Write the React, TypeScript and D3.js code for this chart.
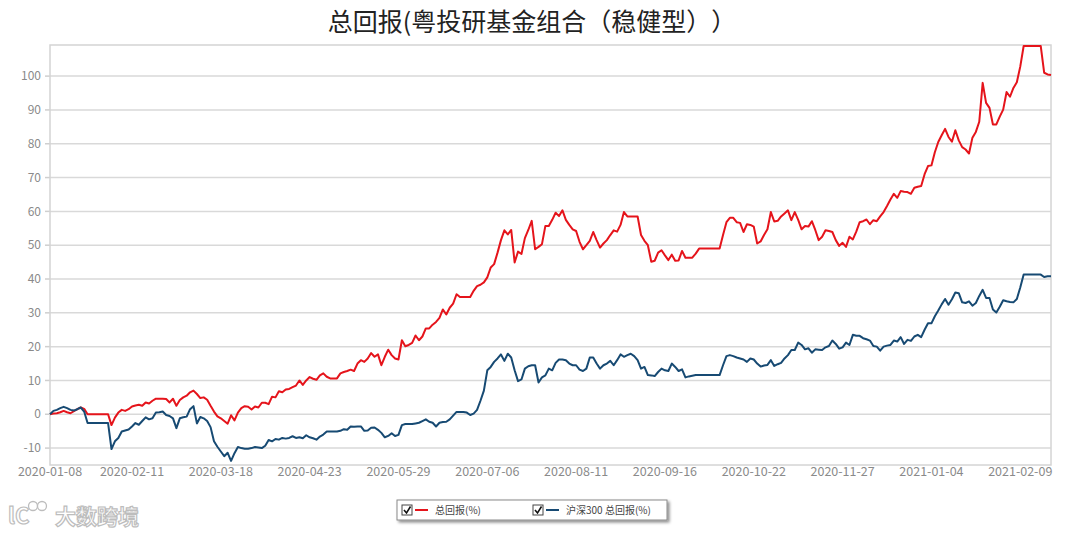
import React from "react";
import * as d3 from "d3";

// ---- data ----
const START_DATE = "2020-01-08"; // first weekday of the series
const tickLabels = [
  "2020-01-08", "2020-02-11", "2020-03-18", "2020-04-23", "2020-05-29", "2020-07-06",
  "2020-08-11", "2020-09-16", "2020-10-22", "2020-11-27", "2021-01-04", "2021-02-09",
];
const yTicks = [-10, 0, 10, 20, 30, 40, 50, 60, 70, 80, 90, 100];
const seriesNames = ["总回报(%)", "沪深300 总回报(%)"];
const title = "总回报(粤投研基金组合（稳健型））";

// fund total return (%), one value per weekday
const fundReturn = [
  0, 0.2, 0.3, 0.6, 1.0, 0.6, 0.3, 0.9, 1.5, 2.0,
  1.6, 0, 0, 0, 0, 0, 0, 0, -3.2, -1.0,
  0.5, 1.3, 1.0, 1.5, 2.3, 2.6, 2.8, 2.5, 3.5, 3.2,
  4.0, 4.6, 4.6, 4.6, 4.5, 3.5, 4.6, 2.5, 4.2, 5.0,
  5.5, 6.5, 7.0, 6.0, 4.8, 5.0, 4.3, 2.5, 0.8, -0.6,
  -1.2, -2.0, -2.8, -0.3, -1.8, 0.5, 1.8, 2.4, 2.2, 1.4,
  2.3, 2.0, 3.4, 3.4, 3.0, 5.2, 5.0, 6.8, 6.5, 7.3,
  7.5, 8.0, 8.5, 10.0, 8.7, 10.0, 11.0, 10.5, 10.2, 11.5,
  12.1, 11.1, 10.6, 10.6, 10.6, 12.1, 12.5, 12.8, 13.2, 12.8,
  15.0, 16.0, 15.5, 16.5, 18.1, 17.0, 17.7, 14.5, 17.0, 19.1,
  17.5, 16.5, 16.2, 21.9, 20.1, 20.5, 21.1, 23.3, 21.9, 23.0,
  25.4, 25.4, 26.5, 27.3, 28.5, 31.0, 29.5, 31.5, 32.7, 35.5,
  34.7, 34.7, 34.7, 34.7, 36.5, 37.9, 38.3, 39.0, 40.5, 43.4,
  44.4, 47.8, 51.5, 54.4, 53.2, 54.5, 44.9, 48.1, 47.4, 52.1,
  54.5, 57.2, 48.8, 49.5, 50.3, 55.7, 55.7, 57.5, 59.6, 58.6,
  60.3, 57.5, 56.0, 54.7, 54.2, 51.0, 48.8, 50.0, 51.3, 53.9,
  51.5, 49.3, 50.5, 51.5, 53.0, 54.4, 54.0, 56.0, 59.8, 58.5,
  58.5, 58.5, 58.5, 53.0, 51.3, 50.0, 45.1, 45.4, 47.8, 48.5,
  47.0, 45.6, 47.2, 45.4, 45.5, 48.3, 46.3, 46.3, 46.3, 47.5,
  49.0, 49.0, 49.0, 49.0, 49.0, 49.0, 49.0, 53.0, 56.8, 58.1,
  58.1, 56.8, 56.6, 53.9, 56.2, 56.0, 55.5, 50.5, 51.1, 53.0,
  54.7, 59.8, 57.0, 57.2, 58.5, 59.4, 60.3, 57.4, 59.8, 57.5,
  54.7, 55.7, 55.5, 57.1, 54.5, 51.5, 52.5, 54.4, 54.2, 53.9,
  51.5, 49.8, 50.7, 49.5, 52.5, 51.7, 54.0, 56.8, 57.1, 57.6,
  56.2, 57.4, 57.1, 58.5, 59.8, 61.6, 63.5, 65.2, 64.0, 66.0,
  65.8, 65.7, 65.2, 67.0, 67.3, 67.5, 71.0, 73.4, 73.6, 77.5,
  80.5, 82.5, 84.4, 82.0, 80.6, 84.0, 81.0, 79.0, 78.3, 77.1,
  81.8, 83.5, 86.5, 98.0, 92.1, 90.6, 85.7, 85.7, 88.0, 90.1,
  95.3, 93.9, 96.5, 98.2, 102.8, 108.9, 108.9, 108.9, 108.9, 108.9,
  108.9, 101.0, 100.5, 100.3,
];

// CSI 300 total return (%), one value per weekday
const hs300Return = [
  0, 1.0, 1.3, 1.8, 2.2, 1.8, 1.3, 1.1, 1.5, 2.0,
  0.8, -2.6, -2.6, -2.6, -2.6, -2.6, -2.6, -2.6, -10.3, -8.0,
  -7.0, -5.1, -4.8, -4.5, -3.6, -2.6, -3.1, -2.0, -0.9, -1.5,
  -1.2, 0.5, 0.6, 0.8, -0.2, -0.5, -1.2, -4.1, -1.2, -0.9,
  -0.7, 1.5, 2.4, -2.7, -0.8, -1.2, -2.0, -3.8, -8.0, -9.6,
  -11.0, -12.4, -11.4, -13.8, -11.5, -9.7, -10.0, -10.2, -10.2, -10.0,
  -9.7, -9.8, -10.0, -9.3, -7.6, -8.0, -7.3, -7.5, -7.0, -7.2,
  -7.0, -6.5, -7.0, -6.8, -7.1, -6.2, -6.8, -7.1, -7.5, -6.6,
  -6.0, -5.1, -5.1, -5.1, -5.1, -4.9, -4.4, -4.6, -3.6, -3.7,
  -3.6, -3.6, -4.9, -4.8, -4.0, -3.9, -4.6, -5.5, -6.8, -6.4,
  -5.6, -6.4, -6.1, -3.2, -2.9, -2.9, -2.9, -2.7, -2.5, -2.0,
  -1.5, -2.2, -2.5, -3.6, -2.5, -2.3, -2.2, -1.5, -0.4, 0.7,
  0.7, 0.7, 0.5, -0.2, 0.2, 1.3, 4.0, 7.0, 13.0, 14.0,
  15.5, 16.5, 17.7, 15.8, 17.9, 16.8, 13.0, 9.8, 10.3, 13.5,
  14.2, 14.5, 14.5, 9.4, 10.9, 11.5, 13.5, 13.0, 15.2, 16.2,
  16.2, 16.0, 15.0, 14.5, 14.5, 13.2, 12.8, 13.5, 16.8, 16.8,
  15.0, 13.5, 14.5, 15.0, 15.8, 14.5, 16.0, 17.7, 17.0, 17.5,
  17.9, 17.2, 16.0, 13.5, 14.0, 11.6, 11.5, 11.3, 12.5, 13.5,
  13.0, 12.8, 15.0, 14.0, 12.8, 13.3, 10.9, 11.2, 11.4, 11.6,
  11.6, 11.6, 11.6, 11.6, 11.6, 11.6, 11.6, 14.5, 17.2, 17.5,
  17.2, 16.8, 16.5, 16.2, 15.5, 16.5, 16.2, 15.0, 14.1, 14.4,
  14.6, 16.0, 14.3, 14.8, 15.2, 16.5, 17.5, 19.0, 19.0, 21.2,
  20.5, 19.2, 19.5, 18.2, 19.2, 19.1, 19.0, 19.8, 20.2, 21.8,
  20.8, 19.4, 19.8, 21.2, 20.5, 23.5, 23.2, 23.2, 22.5, 22.2,
  21.8, 20.2, 20.0, 18.8, 20.0, 20.3, 20.5, 21.8, 21.5, 22.8,
  20.8, 22.0, 21.7, 23.0, 23.5, 22.8, 25.0, 26.9, 26.9, 29.0,
  30.7, 32.5, 34.1, 32.4, 34.0, 36.0, 35.8, 33.1, 32.9, 33.4,
  32.1, 32.9, 35.0, 36.8, 34.4, 34.4, 31.0, 30.1, 31.8, 33.7,
  33.4, 33.2, 33.1, 34.1, 37.5, 41.3, 41.3, 41.3, 41.3, 41.3,
  41.3, 40.6, 40.8, 40.8,
];

const Y_MIN = -15;
const Y_MAX = 109.2;

// weekday calendar used as the category axis
function weekdayDates(start: string, n: number): string[] {
  const out: string[] = [];
  const d = new Date(start + "T00:00:00Z");
  while (out.length < n) {
    const dow = d.getUTCDay();
    if (dow !== 0 && dow !== 6) out.push(d.toISOString().slice(0, 10));
    d.setUTCDate(d.getUTCDate() + 1);
  }
  return out;
}

const W = 1080;
const H = 534;
const M = { left: 50, right: 1051, top: 45, bottom: 465 };
const FONT = "'Noto Sans CJK SC', 'Noto Sans', sans-serif";
const RED = "#e5141b";
const BLUE = "#174a73";

export default function App() {
  const dates = weekdayDates(START_DATE, fundReturn.length);
  const x = d3.scalePoint<string>().domain(dates).range([M.left, M.right]).padding(0);
  const y = d3.scaleLinear().domain([Y_MIN, Y_MAX]).range([M.bottom, M.top]);
  const line = d3
    .line<number>()
    .x((_, i) => x(dates[i]) as number)
    .y((v) => y(v));

  const series = [
    { name: seriesNames[0], values: fundReturn, color: RED },
    { name: seriesNames[1], values: hs300Return, color: BLUE },
  ];

  const legendX = 397;
  const legendY = 500;
  const legendW = 270;
  const legendH = 20;
  const itemX = [legendX + 5, legendX + 136];

  return (
    <div style={{ position: "absolute", left: 0, top: 0 }}>
      <svg width={W} height={H} style={{ display: "block", background: "#fff" }} fontFamily={FONT}>
        <defs>
          <filter id="shadow" x="-10%" y="-30%" width="130%" height="190%">
            <feDropShadow dx="2" dy="2" stdDeviation="1.5" floodColor="#000" floodOpacity="0.45" />
          </filter>
        </defs>
        <text
          x={532}
          y={31}
          textAnchor="middle"
          fontSize={25}
          fill="#222"
          style={{ textSpacingTrim: "space-all" } as any}
        >
          {title}
        </text>

        {/* grid */}
        {yTicks.map((t) => (
          <g key={t}>
            <line x1={M.left} x2={M.right} y1={y(t)} y2={y(t)} stroke="#d9d9d9" strokeWidth={1.5} />
            <line x1={M.left - 5} x2={M.left} y1={y(t)} y2={y(t)} stroke="#cfcfcf" strokeWidth={1.5} />
            <text x={41} y={y(t)} dy="0.35em" textAnchor="end" fontSize={12} fill="#8a8a8a">
              {t}
            </text>
          </g>
        ))}
        <rect
          x={M.left}
          y={M.top}
          width={M.right - M.left}
          height={M.bottom - M.top}
          fill="none"
          stroke="#d4d4d4"
          strokeWidth={1.5}
        />
        {tickLabels.map((t) => (
          <text key={t} x={x(t)} y={476} textAnchor="middle" fontSize={12.5} fill="#8a8a8a">
            {t}
          </text>
        ))}

        {series.map((s) => (
          <path key={s.name} d={line(s.values) || ""} fill="none" stroke={s.color} strokeWidth={2} strokeLinejoin="round" />
        ))}

        {/* legend */}
        <rect x={legendX} y={legendY} width={legendW} height={legendH} fill="#fff" stroke="#8a8a8a" strokeWidth={1} filter="url(#shadow)" />
        {series.map((s, i) => {
          const bx = itemX[i];
          const cy = legendY + legendH / 2;
          return (
            <g key={s.name}>
              <rect x={bx} y={cy - 5} width={10} height={10} fill="#fff" stroke="#444" strokeWidth={1} />
              <path d={`M${bx + 2},${cy} L${bx + 4.5},${cy + 3} L${bx + 8.5},${cy - 3.5}`} fill="none" stroke="#111" strokeWidth={1.6} />
              <line x1={bx + 13} x2={bx + 26} y1={cy} y2={cy} stroke={s.color} strokeWidth={2} />
              <text x={bx + 33} y={cy} dy="0.35em" fontSize={10} fill="#444">
                {s.name}
              </text>
            </g>
          );
        })}

        {/* watermark */}
        <g>
          <text x={8} y={524} fontSize={22} fontWeight="bold" fill="#fff" stroke="#bdbdbd" strokeWidth={1.2}>
            lC
          </text>
          <circle cx={33} cy={506} r={4.5} fill="#fff" stroke="#bdbdbd" strokeWidth={1.3} />
          <circle cx={42} cy={506} r={4.5} fill="#fff" stroke="#bdbdbd" strokeWidth={1.3} />
          <text x={55} y={524} fontSize={21} fontWeight="bold" fill="#fff" stroke="#bdbdbd" strokeWidth={1.2}>
            大数跨境
          </text>
        </g>
      </svg>
    </div>
  );
}
